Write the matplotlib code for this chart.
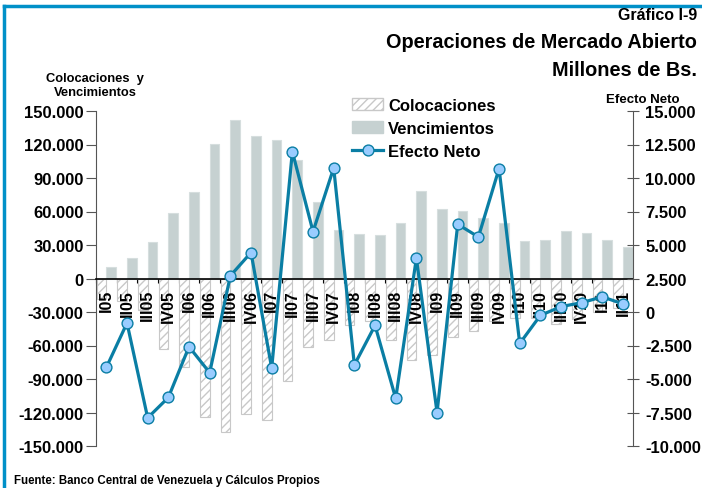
import matplotlib.pyplot as plt
import matplotlib.ticker as mticker
from matplotlib.lines import Line2D
import numpy as np

plt.rcParams['font.family'] = ['Liberation Sans', 'DejaVu Sans']
plt.rcParams['font.weight'] = 'bold'
plt.rcParams['hatch.color'] = '#c4c4c4'
plt.rcParams['hatch.linewidth'] = 1.0

# quarters 2005-I .. 2011-II
trimestres = ['I05', 'II05', 'III05', 'IV05', 'I06', 'II06', 'III06', 'IV06',
              'I07', 'II07', 'III07', 'IV07', 'I08', 'II08', 'III08', 'IV08',
              'I09', 'II09', 'III09', 'IV09', 'I10', 'II10', 'III10', 'IV10',
              'I11', 'II11']

# millones de Bs.
colocaciones = [-18000, -20000, -28000, -63000, -79000, -124000, -137500, -121000,
                -127000, -92000, -61000, -55000, -42000, -38000, -55000, -73000,
                -68500, -52000, -47000, -38000, -35000, -35000, -41000, -36000,
                -30000, -26000]
vencimientos = [10500, 18800, 33000, 58300, 77400, 120800, 142000, 127400,
                123800, 106300, 68500, 43500, 39600, 39000, 50000, 78300,
                62200, 60400, 54200, 49700, 33900, 34500, 42200, 41100,
                34500, 28600]
efecto_neto = [-4140, -820, -7900, -6380, -2590, -4530, 2700, 4440,
               -4190, 11970, 6000, 10750, -3950, -1000, -6450, 4020,
               -7500, 6550, 5600, 10700, -2350, -250, 400, 700,
               1130, 600]

x = np.arange(len(trimestres))

fig = plt.figure(figsize=(7.02, 4.89), dpi=100)
ax = fig.add_axes([96/702, 1-447/489, (633-96)/702, (447-112)/489])

ax.bar(x, colocaciones, width=-0.47, align='edge', color='white',
       edgecolor='#c8c8c8', hatch='////', linewidth=0.8, zorder=2)
ax.bar(x, vencimientos, width=0.47, align='edge', color='#c6d1d1',
       edgecolor='#d6dede', linewidth=0.8, zorder=2)

ax.set_xlim(-0.46, 25.48)
ax.set_ylim(-150000, 150000)
ax.set_yticks(np.arange(-150000, 150001, 30000))
fmt = mticker.FuncFormatter(lambda v, p: f'{int(v):,}'.replace(',', '.'))
ax.yaxis.set_major_formatter(fmt)
ax.tick_params(axis='y', labelsize=12, direction='out', length=7, pad=2,
               color='#555555')

for s in ['top', 'right']:
    ax.spines[s].set_visible(False)
ax.spines['left'].set_color('#555555')
ax.spines['bottom'].set_position(('data', 0))
ax.spines['bottom'].set_color('black')
ax.spines['bottom'].set_linewidth(1.2)
ax.set_xticks(x - 0.5, minor=False)
ax.set_xticklabels([])
ax.tick_params(axis='x', direction='out', length=3, color='black')
for i, lab in enumerate(trimestres):
    ax.text(i, -9500, lab, rotation=90, ha='center', va='top',
            fontsize=11.5, fontweight='bold', zorder=5)

ax2 = ax.twinx()
ax2.plot(x, efecto_neto, color='#0a7ea4', lw=2.3, marker='o', markersize=7.8,
         markerfacecolor='#99ccff', markeredgecolor='#0a7ea4', markeredgewidth=1,
         zorder=6)
ax2.set_ylim(-10000, 15000)
ax2.set_yticks(np.arange(-10000, 15001, 2500))
ax2.yaxis.set_major_formatter(fmt)
ax2.tick_params(axis='y', labelsize=12, direction='inout', length=8, pad=5,
                color='#555555')
for s in ['top', 'left', 'bottom']:
    ax2.spines[s].set_visible(False)
ax2.spines['right'].set_color('#555555')

# legend
handles = [plt.Rectangle((0, 0), 1, 1, facecolor='white', edgecolor='#c8c8c8', hatch='////'),
           plt.Rectangle((0, 0), 1, 1, facecolor='#c6d1d1', edgecolor='#c6d1d1'),
           Line2D([], [], color='#0a7ea4', lw=2.3, marker='o', markersize=7.8,
                  markerfacecolor='#99ccff', markeredgecolor='#0a7ea4')]
fig.legend(handles, ['Colocaciones', 'Vencimientos', 'Efecto Neto'],
           loc='upper left', bbox_to_anchor=(345/702, 1-92/489), frameon=False,
           prop={'size': 12, 'weight': 'bold'}, handlelength=1.9,
           handletextpad=0.3, labelspacing=0.5, borderaxespad=0)

# titles and notes
fig.text(697/702, 1-15/489, 'Gráfico I-9', ha='right', va='center', fontsize=11.5)
fig.text(697/702, 1-43/489, 'Operaciones de Mercado Abierto', ha='right', va='center', fontsize=14.3)
fig.text(697/702, 1-70/489, 'Millones de Bs.', ha='right', va='center', fontsize=14.3)
fig.text(95/702, 1-86/489, 'Colocaciones  y\nVencimientos', ha='center', va='center',
         fontsize=9.3, linespacing=1.3)
fig.text(643/702, 1-100/489, 'Efecto Neto', ha='center', va='center', fontsize=9.5)
fig.text(14/702, 1-481/489, 'Fuente: Banco Central de Venezuela y Cálculos Propios',
         ha='left', va='center', fontsize=8.3)

# blue frame
fig.add_artist(Line2D([4/702, 1], [1-7/489, 1-7/489], color='#0090c8', lw=2.5))
fig.add_artist(Line2D([4/702, 4/702], [0, 1-7/489], color='#0090c8', lw=2.5))

fig.savefig('out.png', dpi=100)
